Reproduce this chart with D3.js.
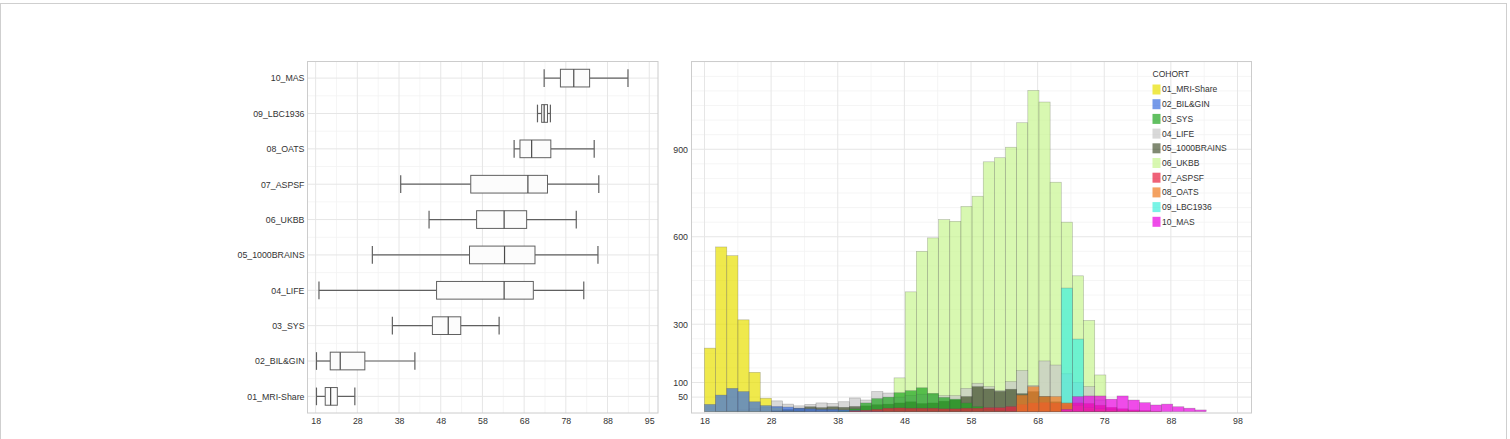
<!DOCTYPE html>
<html>
<head>
<meta charset="utf-8">
<script src="https://cdn.jsdelivr.net/npm/d3@7/dist/d3.min.js"></script>
<style>
  body { margin: 0; background: #fff; }
  text { font-family: "Liberation Sans", Arial, sans-serif; fill: #333; }
</style>
</head>
<body>
<svg id="figure" width="1510" height="439"></svg>
<script>
// cohorts, bottom (01) to top (10)
const cohorts = ["01_MRI-Share", "02_BIL&GIN", "03_SYS", "04_LIFE", "05_1000BRAINS",
  "06_UKBB", "07_ASPSF", "08_OATS", "09_LBC1936", "10_MAS"];
const cohortColors = ["#e8e000", "#3c6fe0", "#1fa51f", "#c8c8c8", "#1a2a00",
  "#c8f590", "#e8203f", "#f07a20", "#40f0dc", "#e800e0"];
const cohortAlpha = [0.7, 0.7, 0.7, 0.7, 0.55, 0.7, 0.7, 0.7, 0.7, 0.7];

// boxplot stats (age)
const ageMin    = [18.2, 18.2, 36.4, 18.8, 31.6, 45.2, 38.4, 65.6, 71.2, 72.8];
const ageQ1     = [20.3, 21.5, 46.0, 47.0, 54.9, 56.6, 55.2, 67.0, 72.2, 76.7];
const ageMedian = [21.6, 23.9, 49.8, 63.2, 63.3, 63.2, 68.9, 69.8, 72.8, 79.9];
const ageQ3     = [23.2, 29.8, 52.8, 70.2, 70.6, 68.6, 73.6, 74.4, 73.6, 83.7];
const ageMax    = [27.4, 41.8, 62.0, 82.3, 85.7, 80.5, 85.9, 84.8, 74.3, 92.9];

// histogram bins
const binStart = 18;
const binWidth = 1.6734;
const countsMriShare = [218,565,535,315,135,46,14,5,2,0,0,0,0,0,0, 0,0,0,0,0,0,0,0,0,0,0,0,0,0,0, 0,0,0,0,0,0,0,0,0,0,0,0,0,0,0];
const countsBilGin   = [25,57,80,69,34,21,18,16,12,10,8,8,6,5,3, 2,0,0,0,0,0,0,0,0,0,0,0,0,0,0, 0,0,0,0,0,0,0,0,0,0,0,0,0,0,0];
const countsSys      = [0,0,0,0,0,0,0,0,0,0,0,0,4,10,30, 45,50,65,72,82,63,49,43,30,18,10,5,2,0,0, 0,0,0,0,0,0,0,0,0,0,0,0,0,0,0];
const countsLife     = [0,2,4,6,10,15,37,26,20,25,30,28,34,47,40, 69,64,50,55,60,58,55,55,80,97,86,72,103,141,90, 174,160,130,100,86,40,10,0,0,0,0,0,0,0,0];
const counts1000Brains = [0,0,0,0,0,0,3,8,12,17,14,17,15,18,20, 24,26,30,34,28,30,36,40,52,86,78,70,77,62,69, 52,34,22,15,10,5,2,0,0,0,0,0,0,0,0];
const countsUkbb     = [0,0,0,0,0,0,0,0,0,0,0,0,0,0,0, 0,0,116,411,550,596,659,653,704,739,857,871,907,991,1102, 1062,787,650,466,313,126,0,0,0,0,0,0,0,0,0];
const countsAspsf    = [0,0,0,0,0,0,0,0,0,0,0,0,0,3,5, 8,12,13,12,12,12,10,10,12,12,14,14,18,25,30, 32,30,28,30,28,22,15,10,6,4,2,0,0,0,0];
const countsOats     = [0,0,0,0,0,0,0,0,0,0,0,0,0,0,0, 0,0,0,0,0,0,0,0,0,0,0,0,0,57,86, 52,52,30,22,15,10,6,4,2,0,0,0,0,0,0];
const countsLbc1936  = [0,0,0,0,0,0,0,0,0,0,0,0,0,0,0, 0,0,0,0,0,0,0,0,0,0,0,0,0,0,0, 0,0,424,249,0,0,0,0,0,0,0,0,0,0,0];
const countsMas      = [0,0,0,0,0,0,0,0,0,0,0,0,0,0,0, 0,0,0,0,0,0,0,0,0,0,0,0,0,0,0, 0,0,8,52,54,54,43,54,40,31,23,26,17,12,6];
const cohortCounts = [countsMriShare, countsBilGin, countsSys, countsLife, counts1000Brains,
  countsUkbb, countsAspsf, countsOats, countsLbc1936, countsMas];
// big cohorts are drawn first, small ones on top
const drawOrder = [5, 3, 0, 4, 8, 2, 1, 6, 7, 9];

// axes
const ageTicks = [18, 28, 38, 48, 58, 68, 78, 88, 98];
const boxTickLabels = ["18", "28", "38", "48", "58", "68", "78", "88", "95"];
const histTickLabels = ["18", "28", "38", "48", "58", "68", "78", "88", "98"];
const countTicks = [50, 100, 300, 600, 900];

const svg = d3.select("#figure");

// outer card border
svg.append("rect")
  .attr("x", 0.5).attr("y", 3.5)
  .attr("width", 1506).attr("height", 460)
  .attr("fill", "none").attr("stroke", "#cfcfcf");

function drawGrid(g, xscale, w, h, xs, ys, cls) {
  g.selectAll("line." + cls + "x").data(xs).enter().append("line")
    .attr("x1", d => xscale(d)).attr("x2", d => xscale(d))
    .attr("y1", 0).attr("y2", h);
  g.selectAll("line." + cls + "y").data(ys).enter().append("line")
    .attr("x1", 0).attr("x2", w)
    .attr("y1", d => d).attr("y2", d => d);
}

class BoxPlot {
  constructor(config) {
    this.config = config;
    this.init();
  }

  init() {
    let self = this;
    const c = self.config;
    self.chart = svg.append('g')
      .attr('transform', `translate(${c.left},${c.top})`);

    self.xscale = d3.scaleLinear().domain([16.05, 100.1]).range([0, c.width]);
    self.yscale = d3.scalePoint().domain(cohorts).range([c.height, 0]).padding(0.47);
    self.render();
  }

  render() {
    let self = this;
    const c = self.config;
    const step = self.yscale.step();
    const minorX = ageTicks.slice(0, -1).map(d => d + 5);
    const catY = cohorts.map(d => self.yscale(d));
    const minorY = catY.slice(0, -1).map(d => d - step / 2);

    const minor = self.chart.append('g').attr('stroke', '#f3f3f3').attr('stroke-width', 0.8);
    drawGrid(minor, self.xscale, c.width, c.height, minorX, minorY, 'mn');
    const major = self.chart.append('g').attr('stroke', '#e6e6e6').attr('stroke-width', 1);
    drawGrid(major, self.xscale, c.width, c.height, ageTicks, catY, 'mj');

    const half = step * 0.25;
    const rows = self.chart.selectAll('g.row')
      .data(cohorts.map((d, i) => ({ name: d, lo: ageMin[i], q1: ageQ1[i], med: ageMedian[i], q3: ageQ3[i], hi: ageMax[i] })))
      .enter().append('g')
      .attr('transform', d => `translate(0,${self.yscale(d.name)})`)
      .attr('stroke', '#606060');

    rows.append('line').attr('stroke-width', 1.2)
      .attr('x1', d => self.xscale(d.lo)).attr('x2', d => self.xscale(d.q1));
    rows.append('line').attr('stroke-width', 1.2)
      .attr('x1', d => self.xscale(d.q3)).attr('x2', d => self.xscale(d.hi));
    rows.append('line').attr('stroke-width', 1.2)
      .attr('x1', d => self.xscale(d.lo)).attr('x2', d => self.xscale(d.lo))
      .attr('y1', -half).attr('y2', half);
    rows.append('line').attr('stroke-width', 1.2)
      .attr('x1', d => self.xscale(d.hi)).attr('x2', d => self.xscale(d.hi))
      .attr('y1', -half).attr('y2', half);
    rows.append('rect').attr('stroke-width', 1).attr('fill', '#fcfcfc')
      .attr('x', d => self.xscale(d.q1)).attr('y', -half)
      .attr('width', d => self.xscale(d.q3) - self.xscale(d.q1)).attr('height', 2 * half);
    rows.append('line').attr('stroke-width', 1.2).attr('stroke', '#4a4a4a')
      .attr('x1', d => self.xscale(d.med)).attr('x2', d => self.xscale(d.med))
      .attr('y1', -half).attr('y2', half);

    self.chart.append('rect')
      .attr('width', c.width).attr('height', c.height)
      .attr('fill', 'none').attr('stroke', '#cccccc');

    const xaxis = d3.axisBottom(self.xscale).tickValues(ageTicks)
      .tickFormat((d, i) => boxTickLabels[i]).tickSize(0).tickPadding(5);
    self.chart.append('g').attr('transform', `translate(0,${c.height})`).call(xaxis)
      .call(g => g.select('.domain').remove())
      .selectAll('text').attr('font-size', 8.8).attr('fill', '#333');

    const yaxis = d3.axisLeft(self.yscale).tickSize(0).tickPadding(3);
    self.chart.append('g').call(yaxis)
      .call(g => g.select('.domain').remove())
      .selectAll('text').attr('font-size', 8.8).attr('fill', '#333');
  }
}

class Histogram {
  constructor(config) {
    this.config = config;
    this.init();
  }

  init() {
    let self = this;
    const c = self.config;
    self.chart = svg.append('g')
      .attr('transform', `translate(${c.left},${c.top})`);
    self.xscale = d3.scaleLinear().domain([16.05, 100.1]).range([0, c.width]);
    self.yscale = d3.scaleLinear().domain([-4.5, 1201]).range([c.height, 0]);
    self.render();
  }

  render() {
    let self = this;
    const c = self.config;
    const minorX = ageTicks.slice(0, -1).map(d => d + 5);
    const minorCounts = d3.range(50, 1201, 50).filter(d => !countTicks.includes(d));

    const minor = self.chart.append('g').attr('stroke', '#f3f3f3').attr('stroke-width', 0.8);
    drawGrid(minor, self.xscale, c.width, c.height, minorX, minorCounts.map(d => self.yscale(d)), 'mn');
    const major = self.chart.append('g').attr('stroke', '#e6e6e6').attr('stroke-width', 1);
    drawGrid(major, self.xscale, c.width, c.height, ageTicks, countTicks.map(d => self.yscale(d)), 'mj');

    drawOrder.forEach(k => {
      const bins = cohortCounts[k]
        .map((n, i) => ({ x0: binStart + i * binWidth, x1: binStart + (i + 1) * binWidth, n: n }))
        .filter(d => d.n > 0);
      self.chart.append('g').selectAll('rect').data(bins).enter().append('rect')
        .attr('x', d => self.xscale(d.x0))
        .attr('width', d => self.xscale(d.x1) - self.xscale(d.x0))
        .attr('y', d => self.yscale(d.n))
        .attr('height', d => self.yscale(0) - self.yscale(d.n))
        .attr('fill', cohortColors[k]).attr('fill-opacity', cohortAlpha[k])
        .attr('stroke', '#555').attr('stroke-opacity', 0.4).attr('stroke-width', 0.6);
    });

    self.chart.append('rect')
      .attr('width', c.width).attr('height', c.height)
      .attr('fill', 'none').attr('stroke', '#cccccc');

    const xaxis = d3.axisBottom(self.xscale).tickValues(ageTicks)
      .tickFormat((d, i) => histTickLabels[i]).tickSize(0).tickPadding(5);
    self.chart.append('g').attr('transform', `translate(0,${c.height})`).call(xaxis)
      .call(g => g.select('.domain').remove())
      .selectAll('text').attr('font-size', 8.8).attr('fill', '#333');

    const yaxis = d3.axisLeft(self.yscale).tickValues(countTicks).tickSize(0).tickPadding(3.5);
    self.chart.append('g').call(yaxis)
      .call(g => g.select('.domain').remove())
      .selectAll('text').attr('font-size', 8.8).attr('fill', '#333');

    // legend
    const legend = self.chart.append('g').attr('transform', `translate(${c.legendX},${c.legendY})`);
    legend.append('text').text('COHORT').attr('x', 0).attr('y', 0)
      .attr('dy', '0.35em').attr('font-size', 8.5);
    const items = legend.selectAll('g.item').data(cohorts).enter().append('g')
      .attr('transform', (d, i) => `translate(0,${15 + i * 14.7})`);
    items.append('rect').attr('x', 0).attr('y', -5).attr('width', 8).attr('height', 10)
      .attr('fill', (d, i) => cohortColors[i]).attr('fill-opacity', (d, i) => cohortAlpha[i]);
    items.append('text').text(d => d).attr('x', 9.5).attr('dy', '0.35em').attr('font-size', 8.5);
  }
}

new BoxPlot({ left: 307.5, top: 61.5, width: 350.5, height: 351.5 });
new Histogram({ left: 691.5, top: 61.5, width: 560, height: 351.5, legendX: 461, legendY: 13 });
</script>
</body>
</html>
